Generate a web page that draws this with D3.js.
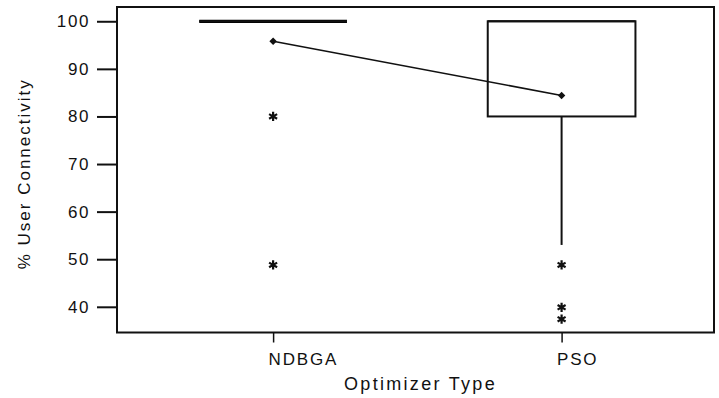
<!DOCTYPE html>
<html>
<head>
<meta charset="utf-8">
<script src="https://cdn.jsdelivr.net/npm/d3@7"></script>
<style>
  html, body { margin: 0; padding: 0; background: #fff; }
  svg { display: block; font-family: "Liberation Sans", Arial, sans-serif; }
</style>
</head>
<body>
<svg id="chart" width="719" height="398"></svg>
<script>
// Optimizer groups and their box-plot summaries (% user connectivity)
const categories = ["NDBGA", "PSO"];
const q1 = [100, 80];
const medians = [100, 100];
const q3 = [100, 100];
const whiskerLow = [100, 53];
const whiskerHigh = [100, 100];
const means = [95.8, 84.4];
const outliers = [
  [80, 48.8],
  [48.8, 39.9, 37.4]
];
const yTicks = [40, 50, 60, 70, 80, 90, 100];

const svg = d3.select("#chart");
const frame = { left: 117, right: 714, top: 7, bottom: 332.5 };

const x = d3.scalePoint()
  .domain(categories)
  .range([frame.left, frame.right])
  .padding(0.5347)
  .align(0.506);

const y = d3.scaleLinear()
  .domain([34.6, 103])
  .range([frame.bottom, frame.top]);

const boxHalf = x.step() * 0.256;

// plot frame
svg.append("rect")
  .attr("x", frame.left).attr("y", frame.top)
  .attr("width", frame.right - frame.left)
  .attr("height", frame.bottom - frame.top)
  .attr("fill", "none").attr("stroke", "#111").attr("stroke-width", 2);

// y axis
const yAxis = svg.append("g")
  .attr("transform", `translate(${frame.left},0)`)
  .call(d3.axisLeft(y).tickValues(yTicks).tickSize(20).tickPadding(7).tickFormat(d3.format("d")));
yAxis.select(".domain").remove();
yAxis.selectAll(".tick line").attr("stroke", "#111").attr("stroke-width", 2);
yAxis.selectAll(".tick text")
  .attr("fill", "#111").style("font-size", "17px").style("letter-spacing", "1.6px")
  .style("font-family", "Liberation Sans, Arial, sans-serif");

// x axis
const xAxis = svg.append("g")
  .attr("transform", `translate(0,${frame.bottom})`)
  .call(d3.axisBottom(x).tickSize(10).tickPadding(6));
xAxis.select(".domain").remove();
xAxis.selectAll(".tick line").attr("stroke", "#111").attr("stroke-width", 1.5);
xAxis.selectAll(".tick text")
  .attr("fill", "#111").attr("text-anchor", "start").attr("x", -5).attr("dy", "0.95em")
  .style("font-size", "17px").style("letter-spacing", "1.8px")
  .style("font-family", "Liberation Sans, Arial, sans-serif");

// axis titles
svg.append("text")
  .attr("x", (frame.left + frame.right) / 2 + 5).attr("y", 390)
  .attr("text-anchor", "middle").attr("fill", "#111")
  .style("font-size", "18px").style("letter-spacing", "2.3px")
  .text("Optimizer Type");

svg.append("text")
  .attr("transform", `translate(30,${(frame.top + frame.bottom) / 2 + 4}) rotate(-90)`)
  .attr("text-anchor", "middle").attr("fill", "#111")
  .style("font-size", "17px").style("letter-spacing", "2px")
  .text("% User Connectivity");

const groups = categories.map((c, i) => ({
  c, q1: q1[i], med: medians[i], q3: q3[i],
  lo: whiskerLow[i], hi: whiskerHigh[i], mean: means[i], out: outliers[i]
}));

const g = svg.append("g");

// whiskers
g.selectAll("line.wlo").data(groups.filter(d => d.lo < d.q1)).join("line")
  .attr("x1", d => x(d.c)).attr("x2", d => x(d.c))
  .attr("y1", d => y(d.q1)).attr("y2", d => y(d.lo))
  .attr("stroke", "#111").attr("stroke-width", 2);
g.selectAll("line.whi").data(groups.filter(d => d.hi > d.q3)).join("line")
  .attr("x1", d => x(d.c)).attr("x2", d => x(d.c))
  .attr("y1", d => y(d.q3)).attr("y2", d => y(d.hi))
  .attr("stroke", "#111").attr("stroke-width", 2);

// boxes (flat boxes collapse to a heavy line)
g.selectAll("rect.box").data(groups.filter(d => d.q3 > d.q1)).join("rect")
  .attr("x", d => x(d.c) - boxHalf).attr("width", boxHalf * 2)
  .attr("y", d => y(d.q3)).attr("height", d => y(d.q1) - y(d.q3))
  .attr("fill", "none").attr("stroke", "#111").attr("stroke-width", 2);
g.selectAll("line.flat").data(groups.filter(d => d.q3 === d.q1)).join("line")
  .attr("x1", d => x(d.c) - boxHalf).attr("x2", d => x(d.c) + boxHalf)
  .attr("y1", d => y(d.q1)).attr("y2", d => y(d.q1))
  .attr("stroke", "#000").attr("stroke-width", 3.2);

// medians
g.selectAll("line.med").data(groups).join("line")
  .attr("x1", d => x(d.c) - boxHalf).attr("x2", d => x(d.c) + boxHalf)
  .attr("y1", d => y(d.med)).attr("y2", d => y(d.med))
  .attr("stroke", "#111").attr("stroke-width", 2);

// mean connect line and markers
g.append("path")
  .datum(groups)
  .attr("d", d3.line().x(d => x(d.c)).y(d => y(d.mean)))
  .attr("fill", "none").attr("stroke", "#111").attr("stroke-width", 1.6);
g.selectAll("path.mean").data(groups).join("path")
  .attr("transform", d => `translate(${x(d.c)},${y(d.mean)}) rotate(45)`)
  .attr("d", d3.symbol(d3.symbolSquare, 28))
  .attr("fill", "#111");

// outliers
const outPts = groups.flatMap(d => d.out.map(v => ({ c: d.c, v })));
g.selectAll("path.out").data(outPts).join("path")
  .attr("transform", d => `translate(${x(d.c)},${y(d.v)})`)
  .attr("d", d3.symbol(d3.symbolAsterisk, 60))
  .attr("fill", "none").attr("stroke", "#111").attr("stroke-width", 2.2);
</script>
</body>
</html>
